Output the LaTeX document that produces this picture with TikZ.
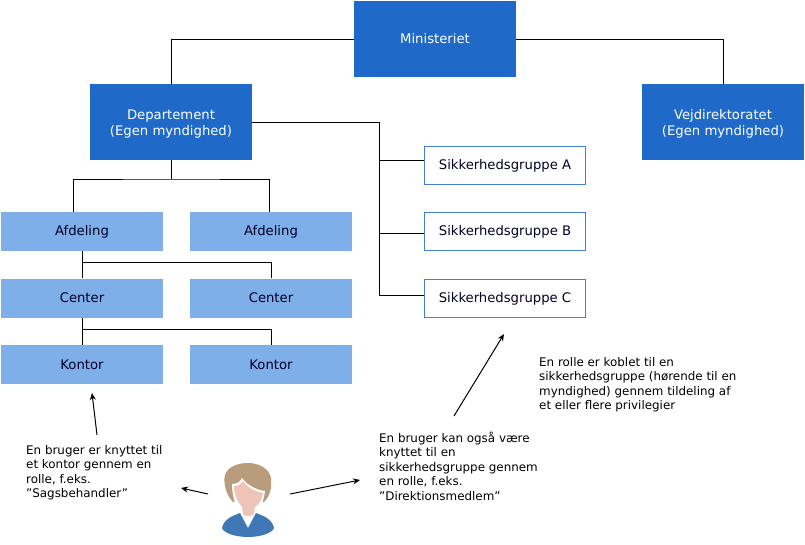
\documentclass[tikz,border=0pt]{standalone}
\usepackage{fontspec}
\setmainfont{DejaVu Sans}
\usetikzlibrary{positioning,calc,arrows.meta}
\definecolor{darkblaa}{HTML}{1F6AC9}
\definecolor{lysblaa}{HTML}{7FAFE8}
\definecolor{hud}{HTML}{EFC4B8}
\definecolor{haar}{HTML}{B99C7C}
\definecolor{bluse}{HTML}{3F78B5}
\tikzset{
	tekst/.style={font=\fontsize{13.2pt}{16pt}\selectfont,text=black!85!blue},
	hovedboks/.style={tekst,fill=darkblaa,text=white,minimum width=162pt,minimum height=76pt,inner sep=0pt,align=center},
	enhed/.style={tekst,fill=lysblaa,minimum width=162pt,minimum height=39pt,inner sep=0pt},
	gruppe/.style={tekst,draw=darkblaa!85!white,fill=white,line width=0.9pt,minimum width=161pt,minimum height=38pt,inner sep=0pt},
	forklaring/.style={tekst,font=\fontsize{11.9pt}{14.5pt}\selectfont,text=black,anchor=north west,align=left,inner sep=0pt},
	streg/.style={line width=1pt,black},
	pil/.style={line width=1pt,black,-{Stealth[length=7pt,width=6pt]}}
}
\begin{document}
\begin{tikzpicture}[x=1pt,y=-1pt]
	\def\xKolA{82}
	\def\xKolB{271}
	\def\xSik{505}
	\def\ySikA{165.5}
	\def\ySikB{231.5}
	\def\ySikC{298.5}
	\useasboundingbox (0,0) rectangle (805,544);

	% top level
	\node[hovedboks] (minist) at (435,39) {Ministeriet};
	\node[hovedboks] (dep) at (171,122) {\rule{0pt}{14pt}Departement\\(Egen myndighed)};
	\node[hovedboks] (vej) at (723,122) {\rule{0pt}{14pt}Vejdirektoratet\\(Egen myndighed)};

	% units
	\node[enhed] (afdA) at (\xKolA,231.5) {Afdeling};
	\node[enhed] (afdB) at (\xKolB,231.5) {Afdeling};
	\node[enhed] (cenA) at (\xKolA,298) {Center};
	\node[enhed] (cenB) at (\xKolB,298) {Center};
	\node[enhed] (konA) at (\xKolA,364.5) {Kontor};
	\node[enhed] (konB) at (\xKolB,364.5) {Kontor};

	% groups
	\node[gruppe] (sikA) at (\xSik,\ySikA) {Sikkerhedsgruppe A};
	\node[gruppe] (sikB) at (\xSik,\ySikB) {Sikkerhedsgruppe B};
	\node[gruppe] (sikC) at (\xSik,\ySikC) {Sikkerhedsgruppe C};

	% lines
	\coordinate (depSplit) at (171,179);
	\coordinate (afdSplit) at (\xKolA,262);
	\coordinate (cenSplit) at (\xKolA,329);
	\coordinate (sikBus) at (379,122);
	\coordinate (sikAind) at ([yshift=5.5pt]sikA.west);
	\coordinate (sikBind) at ([yshift=-1.5pt]sikB.west);
	\coordinate (sikCind) at ([yshift=3.5pt]sikC.west);
	\draw[streg] (minist.west) -| (dep.north);
	\draw[streg] (minist.east) -| (vej.north);
	\draw[streg] (dep.south) -- (depSplit);
	\draw[streg] ([xshift=-9pt]afdA.north) |- (depSplit) -| ([xshift=-2pt]afdB.north);
	\draw[streg] (afdA.south) -- (cenA.north);
	\draw[streg] (afdSplit) -| (cenB.north);
	\draw[streg] (cenA.south) -- (konA.north);
	\draw[streg] (cenSplit) -| (konB.north);
	\draw[streg] (dep.east) -- (sikBus) |- (sikCind);
	\draw[streg] (sikBus |- sikAind) -- (sikAind);
	\draw[streg] (sikBus |- sikBind) -- (sikBind);

	% texts
	\node[forklaring] (txtKontor) at (26,445) {En bruger er knyttet til\\et kontor gennem en\\rolle, f.eks.\\”Sagsbehandler”};
	\node[forklaring] (txtGruppe) at (379,431.5) {En bruger kan også være\\knyttet til en\\sikkerhedsgruppe gennem\\en rolle, f.eks.\\”Direktionsmedlem”};
	\node[forklaring] (txtRolle) at (539,357) {En rolle er koblet til en\\sikkerhedsgruppe (hørende til en\\myndighed) gennem tildeling af\\et eller flere privilegier};

	% arrows
	\coordinate (pilKontorFra) at (97,435);
	\coordinate (pilKontorTil) at (92,393);
	\coordinate (pilBrugerFra) at (208,494);
	\coordinate (pilBrugerTil) at (181,488);
	\coordinate (pilGruppeFra) at (290,494);
	\coordinate (pilGruppeTil) at (360,480);
	\coordinate (pilRolleFra) at (454,416);
	\coordinate (pilRolleTil) at (504,334);
	\draw[pil] (pilKontorFra) -- (pilKontorTil);
	\draw[pil] (pilBrugerFra) -- (pilBrugerTil);
	\draw[pil] (pilGruppeFra) -- (pilGruppeTil);
	\draw[pil] (pilRolleFra) -- (pilRolleTil);

	% user
	\fill[bluse] (222,528) .. controls (224,519) and (232,516) .. (240,513) -- (248,528) -- (256,513) .. controls (264,516) and (272,519) .. (274,528) .. controls (272,534) and (258,537) .. (248,537) .. controls (238,537) and (224,534) .. (222,528) -- cycle;
	\fill[haar] (233,502) .. controls (226,495) and (223,482) .. (225,475) .. controls (228,466) and (239,463) .. (248,463) .. controls (258,463) and (269,468) .. (271,478) .. controls (272,488) and (270,496) .. (264,502) -- cycle;
	\fill[white] (232,484) .. controls (237,484) and (240,482) .. (242,478) .. controls (248,486) and (257,490) .. (265,491) .. controls (264,500) and (261,507) .. (258,511) -- (239,511) .. controls (235,505) and (232,495) .. (232,484) -- cycle;
	\fill[hud] (234,486) .. controls (239,486) and (241,484) .. (243,481) .. controls (248,488) and (256,492) .. (263,493) .. controls (262,502) and (256,509) .. (248,509) .. controls (241,509) and (234,498) .. (234,486) -- cycle;
	\fill[hud] (242,506) -- (255,506) -- (254,514) .. controls (251,517) and (245,517) .. (243,514) -- cycle;
\end{tikzpicture}
\end{document}
